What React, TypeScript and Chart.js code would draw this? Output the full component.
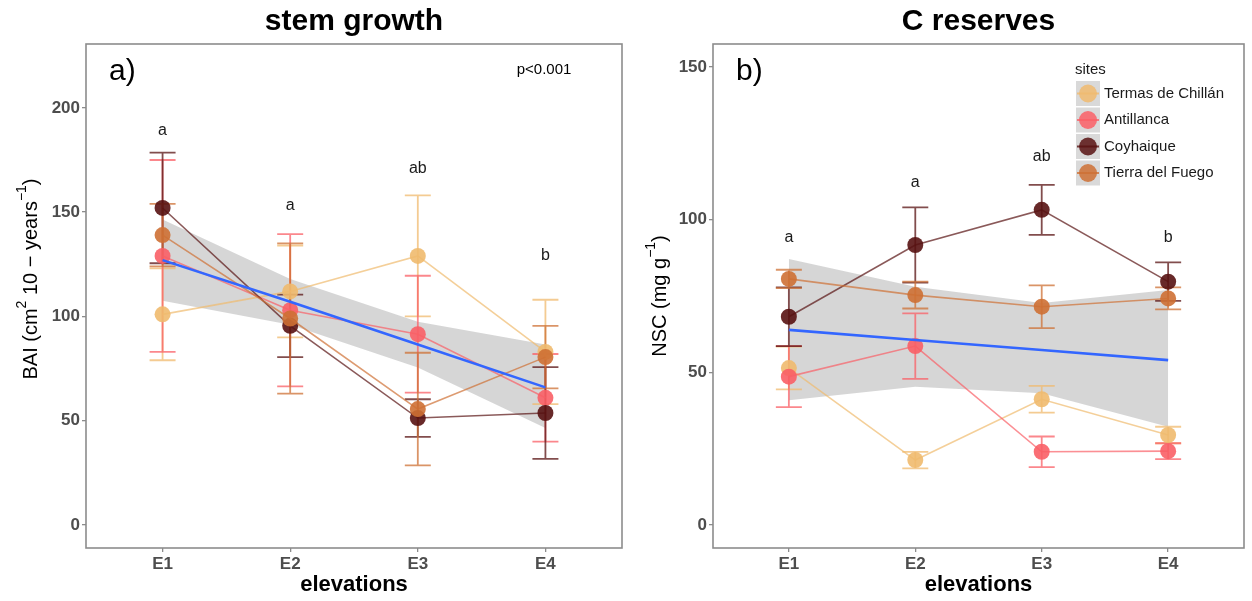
import React, { useEffect, useRef } from 'react';
import { Chart, registerables } from 'chart.js';

Chart.register(...registerables);

const FONT = '"Liberation Sans", Arial, Helvetica, sans-serif';

const elevations = ['E1', 'E2', 'E3', 'E4'];
const sites = ['Termas de Chillán', 'Antillanca', 'Coyhaique', 'Tierra del Fuego'];
const siteColors = ['240,186,110', '250,95,102', '88,18,18', '206,112,52'];
const letterLabels = ['a', 'a', 'ab', 'b'];

// stem growth (BAI)
const baiTermas = [101, 112, 129, 83];
const baiAntillanca = [129, 103, 91.5, 61];
const baiCoyhaique = [152, 95.5, 51.3, 53.7];
const baiTierra = [139, 99, 55.6, 80.5];
const baiTermasSE = [22, 22, 29, 25];
const baiAntillancaSE = [46, 36.5, 28, 21];
const baiCoyhaiqueSE = [26.5, 15, 9, 22];
const baiTierraSE = [15, 36, 27, 15];
const baiFit = [127, 107, 86.5, 66];
const baiFitLow = [107.5, 96, 75.5, 46.5];
const baiFitHigh = [146.5, 118, 97.5, 86.5];
const baiLetterY = [189, 153, 171, 129];
const baiTicks = [0, 50, 100, 150, 200];

// C reserves (NSC)
const nscTermas = [51.4, 21.3, 41.2, 29.5];
const nscAntillanca = [48.6, 58.6, 24, 24.2];
const nscCoyhaique = [68.2, 91.7, 103.2, 79.7];
const nscTierra = [80.6, 75.3, 71.5, 74.2];
const nscTermasSE = [7, 2.7, 4.4, 2.7];
const nscAntillancaSE = [10, 10.7, 5, 2.6];
const nscCoyhaiqueSE = [9.6, 12.3, 8.2, 6.3];
const nscTierraSE = [3, 4.4, 7, 3.6];
const nscFit = [63.9, 60.6, 57.3, 54];
const nscFitLow = [40.9, 45.3, 43.2, 32.2];
const nscFitHigh = [87.1, 78, 72.7, 77];
const nscLetterY = [94, 112, 120.5, 94];
const nscTicks = [0, 50, 100, 150];

type Part = { t: string; sup?: boolean };

type Panel = {
  title: string;
  tag: string;
  note?: string;
  yTicks: number[];
  yMin: number;
  yMax: number;
  series: number[][];
  errors: number[][];
  fit: number[];
  fitLow: number[];
  fitHigh: number[];
  letterY: number[];
  yTitle: Part[];
  yTitleX: number;
  yTitleY: number;
  legend: boolean;
  width: number;
  yAxisWidth: number;
  padRight: number;
};

const rgba = (c: string, a: number) => `rgba(${c},${a})`;
const xy = (arr: number[]) => arr.map((v, i) => ({ x: i + 1, y: v }));

function drawRich(ctx: CanvasRenderingContext2D, parts: Part[], cx: number, cy: number) {
  ctx.save();
  ctx.translate(cx, cy);
  ctx.rotate(-Math.PI / 2);
  ctx.fillStyle = '#000';
  ctx.textBaseline = 'middle';
  ctx.textAlign = 'left';
  const base = `20px ${FONT}`;
  const sup = `14px ${FONT}`;
  const widths = parts.map((p) => {
    ctx.font = p.sup ? sup : base;
    return ctx.measureText(p.t).width;
  });
  const total = widths.reduce((a, b) => a + b, 0);
  let x = -total / 2;
  parts.forEach((p, i) => {
    ctx.font = p.sup ? sup : base;
    ctx.fillText(p.t, x, p.sup ? -9 : 0);
    x += widths[i];
  });
  ctx.restore();
}

function makeConfig(panel: Panel): any {
  const drawOrder = [3, 2, 1, 0];
  const datasets: any[] = [
    {
      label: 'fit',
      data: xy(panel.fit),
      borderColor: '#3366FF',
      borderWidth: 2.6,
      pointRadius: 0,
      pointHoverRadius: 0,
      fill: false,
      tension: 0,
    },
    ...drawOrder.map((i) => ({
      label: sites[i],
      data: xy(panel.series[i]),
      borderColor: rgba(siteColors[i], 0.7),
      borderWidth: 1.6,
      pointRadius: 8,
      pointHoverRadius: 8,
      pointBorderWidth: 0,
      pointBackgroundColor: rgba(siteColors[i], 0.9),
      fill: false,
      tension: 0,
    })),
    {
      label: 'ci-high',
      data: xy(panel.fitHigh),
      borderWidth: 0,
      borderColor: 'rgba(0,0,0,0)',
      pointRadius: 0,
      pointHoverRadius: 0,
      fill: '+1',
      backgroundColor: 'rgba(153,153,153,0.4)',
    },
    {
      label: 'ci-low',
      data: xy(panel.fitLow),
      borderWidth: 0,
      borderColor: 'rgba(0,0,0,0)',
      pointRadius: 0,
      pointHoverRadius: 0,
      fill: false,
    },
  ];

  const errorBars = {
    id: 'errorBars',
    afterDatasetDraw(chart: any, args: any) {
      if (args.index !== 5) return;
      const { ctx, scales } = chart;
      const xs = scales.x;
      const ys = scales.y;
      ctx.save();
      for (let i = 0; i < 4; i++) {
        ctx.strokeStyle = rgba(siteColors[i], 0.75);
        ctx.lineWidth = 1.8;
        panel.series[i].forEach((v, j) => {
          const e = panel.errors[i][j];
          const px = xs.getPixelForValue(j + 1);
          const top = ys.getPixelForValue(v + e);
          const bot = ys.getPixelForValue(v - e);
          const hw = 13;
          ctx.beginPath();
          ctx.moveTo(px, top);
          ctx.lineTo(px, bot);
          ctx.moveTo(px - hw, top);
          ctx.lineTo(px + hw, top);
          ctx.moveTo(px - hw, bot);
          ctx.lineTo(px + hw, bot);
          ctx.stroke();
        });
      }
      ctx.restore();
    },
  };

  const decor = {
    id: 'decor',
    afterDraw(chart: any) {
      const { ctx, chartArea, scales } = chart;
      const xs = scales.x;
      const ys = scales.y;
      ctx.save();
      // panel border
      ctx.strokeStyle = '#8c8c8c';
      ctx.lineWidth = 1.6;
      ctx.strokeRect(chartArea.left, chartArea.top, chartArea.right - chartArea.left, chartArea.bottom - chartArea.top);
      // significance letters
      ctx.fillStyle = '#1a1a1a';
      ctx.font = `16px ${FONT}`;
      ctx.textAlign = 'center';
      ctx.textBaseline = 'middle';
      letterLabels.forEach((l, i) => {
        ctx.fillText(l, xs.getPixelForValue(i + 1), ys.getPixelForValue(panel.letterY[i]));
      });
      // panel tag
      ctx.fillStyle = '#000';
      ctx.font = `30px ${FONT}`;
      ctx.textAlign = 'left';
      ctx.fillText(panel.tag, chartArea.left + 23, chartArea.top + 28);
      // note
      if (panel.note) {
        ctx.font = `15px ${FONT}`;
        ctx.textAlign = 'center';
        ctx.fillText(panel.note, chartArea.right - 78, chartArea.top + 26);
      }
      // y title
      drawRich(ctx, panel.yTitle, panel.yTitleX, panel.yTitleY);
      // legend
      if (panel.legend) {
        const x0 = chartArea.right - 168;
        const y0 = chartArea.top + 37;
        ctx.fillStyle = '#1a1a1a';
        ctx.font = `15px ${FONT}`;
        ctx.textAlign = 'left';
        ctx.fillText('sites', x0 - 1, chartArea.top + 26);
        sites.forEach((s, i) => {
          const ty = y0 + i * 26.5;
          ctx.fillStyle = '#d9d9d9';
          ctx.fillRect(x0, ty, 24, 25);
          const cy = ty + 12.5;
          ctx.strokeStyle = rgba(siteColors[i], 0.8);
          ctx.lineWidth = 2;
          ctx.beginPath();
          ctx.moveTo(x0 + 1, cy);
          ctx.lineTo(x0 + 23, cy);
          ctx.stroke();
          ctx.fillStyle = rgba(siteColors[i], 0.85);
          ctx.beginPath();
          ctx.arc(x0 + 12, cy, 9, 0, Math.PI * 2);
          ctx.fill();
          ctx.fillStyle = '#1a1a1a';
          ctx.fillText(s, x0 + 28, cy);
        });
      }
      ctx.restore();
    },
  };

  const tickFont = { family: FONT, size: 17, weight: 'bold' as const };
  const gridOpts = {
    display: true,
    drawOnChartArea: false,
    drawTicks: true,
    tickLength: 4,
    color: '#8c8c8c',
    lineWidth: 1.3,
  };

  return {
    type: 'line',
    data: { datasets },
    plugins: [errorBars, decor],
    options: {
      animation: false,
      responsive: false,
      devicePixelRatio: 1,
      events: [],
      layout: { padding: { left: 0, right: panel.padRight, top: 0, bottom: 0 } },
      plugins: {
        legend: { display: false },
        tooltip: { enabled: false },
        title: {
          display: true,
          text: panel.title,
          fullSize: false,
          color: '#000',
          font: { family: FONT, size: 30, weight: 'bold' },
          padding: { top: 4, bottom: 4 },
        },
        filler: { propagate: false },
      },
      scales: {
        x: {
          type: 'linear',
          min: 0.4,
          max: 4.6,
          bounds: 'data',
          afterBuildTicks: (s: any) => {
            s.ticks = elevations.map((_, i) => ({ value: i + 1 }));
          },
          afterFit: (s: any) => {
            s.height = 53;
          },
          ticks: {
            callback: (_v: any, i: number) => elevations[i],
            font: tickFont,
            color: '#4d4d4d',
            padding: 2,
            maxRotation: 0,
            autoSkip: false,
          },
          grid: gridOpts,
          border: { display: false },
          title: {
            display: true,
            text: 'elevations',
            color: '#000',
            font: { family: FONT, size: 22, weight: 'bold' },
            padding: { top: 0, bottom: 3 },
          },
        },
        y: {
          type: 'linear',
          min: panel.yMin,
          max: panel.yMax,
          bounds: 'data',
          afterBuildTicks: (s: any) => {
            s.ticks = panel.yTicks.map((v) => ({ value: v }));
          },
          afterFit: (s: any) => {
            s.width = panel.yAxisWidth;
          },
          ticks: {
            font: tickFont,
            color: '#4d4d4d',
            padding: 2,
            autoSkip: false,
          },
          grid: gridOpts,
          border: { display: false },
        },
      },
    },
  };
}

const panels: Panel[] = [
  {
    title: 'stem growth',
    tag: 'a)',
    note: 'p<0.001',
    yTicks: baiTicks,
    yMin: -11,
    yMax: 230.6,
    series: [baiTermas, baiAntillanca, baiCoyhaique, baiTierra],
    errors: [baiTermasSE, baiAntillancaSE, baiCoyhaiqueSE, baiTierraSE],
    fit: baiFit,
    fitLow: baiFitLow,
    fitHigh: baiFitHigh,
    letterY: baiLetterY,
    yTitle: [{ t: 'BAI (cm' }, { t: '2', sup: true }, { t: ' 10 − years' }, { t: '−1', sup: true }, { t: ')' }],
    yTitleX: 31,
    yTitleY: 279,
    legend: false,
    width: 632,
    yAxisWidth: 86,
    padRight: 10,
  },
  {
    title: 'C reserves',
    tag: 'b)',
    yTicks: nscTicks,
    yMin: -7.5,
    yMax: 157.5,
    series: [nscTermas, nscAntillanca, nscCoyhaique, nscTierra],
    errors: [nscTermasSE, nscAntillancaSE, nscCoyhaiqueSE, nscTierraSE],
    fit: nscFit,
    fitLow: nscFitLow,
    fitHigh: nscFitHigh,
    letterY: nscLetterY,
    yTitle: [{ t: 'NSC (mg g' }, { t: '−1', sup: true }, { t: ')' }],
    yTitleX: 28,
    yTitleY: 296,
    legend: true,
    width: 620,
    yAxisWidth: 81,
    padRight: 7,
  },
];

function PanelChart({ panel, left }: { panel: Panel; left: number }) {
  const ref = useRef<HTMLCanvasElement | null>(null);
  useEffect(() => {
    if (!ref.current) return;
    const chart = new Chart(ref.current, makeConfig(panel));
    return () => chart.destroy();
  }, [panel]);
  return (
    <canvas
      ref={ref}
      width={panel.width}
      height={601}
      style={{ position: 'absolute', left, top: 0, width: panel.width, height: 601 }}
    />
  );
}

export default function App() {
  return (
    <div style={{ position: 'absolute', left: 0, top: 0, width: 1252, height: 601, background: '#fff' }}>
      <PanelChart panel={panels[0]} left={0} />
      <PanelChart panel={panels[1]} left={632} />
    </div>
  );
}
